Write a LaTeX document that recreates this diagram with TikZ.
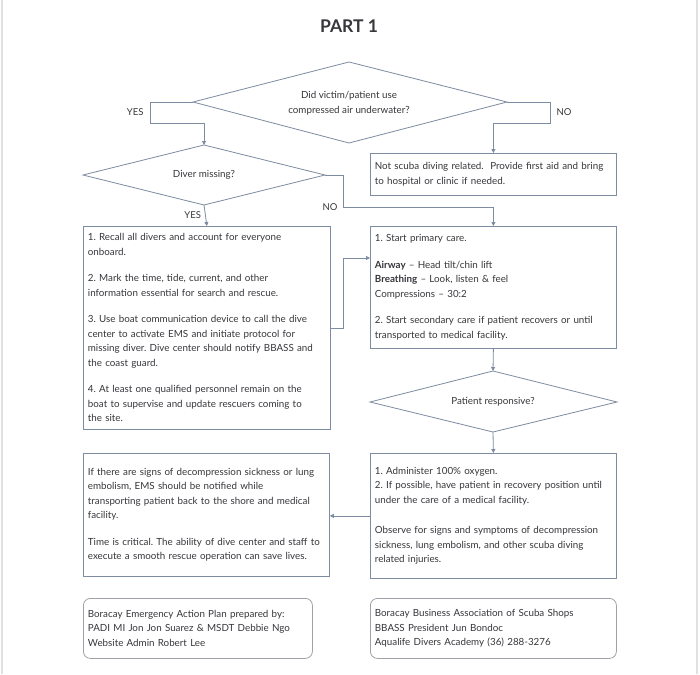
\documentclass[tikz,border=0pt]{standalone}
\usepackage{fontspec}
\setmainfont{Lato}
\usetikzlibrary{arrows.meta,calc}
\definecolor{linec}{RGB}{125,140,160}
\definecolor{txtc}{RGB}{55,55,60}
\definecolor{footc}{RGB}{160,160,168}
\definecolor{edgec}{RGB}{225,225,228}
\begin{document}
\frenchspacing
\begin{tikzpicture}[x=1pt,y=-1pt,
  every node/.style={text=txtc},
  body/.style={font=\fontsize{9.8}{14.5}\selectfont},
  box/.style={draw=linec, line width=0.8pt, fill=white, anchor=north west,
    inner xsep=4.5pt, inner ysep=3pt, align=left, body},
  foot/.style={box, draw=footc, rounded corners=7pt, font=\fontsize{9.8}{14.5}\selectfont},
  decline/.style={draw=linec, line width=0.8pt, fill=white},
  dectext/.style={align=center, inner sep=0pt, body},
  conn/.style={draw=linec, line width=0.8pt},
  arr/.style={conn, -{Triangle[width=4pt,length=4pt]}},
  lab/.style={font=\fontsize{9.5}{10}\selectfont}]
\useasboundingbox (0,0) rectangle (700,674);
\fill[white] (0,0) rectangle (700,674);
\draw[edgec, line width=1.2pt] (2,0) -- (2,674);
\draw[edgec, line width=1.2pt] (697,0) -- (697,674);

\node (title) at (349,26) {\fontsize{17.5}{20}\selectfont\bfseries PART 1};

% decisions
\coordinate (d1n) at (349,62);  \coordinate (d1s) at (349,143);
\coordinate (d1w) at (193,102); \coordinate (d1e) at (507,102);
\draw[decline] (d1n) -- (d1e) -- (d1s) -- (d1w) -- cycle;
\node[dectext] (d1) at (349,103) {Did victim/patient use\\compressed air underwater?};

\coordinate (d2n) at (204,145);  \coordinate (d2s) at (204,205);
\coordinate (d2w) at (83,175);   \coordinate (d2e) at (325,175);
\draw[decline] (d2n) -- (d2e) -- (d2s) -- (d2w) -- cycle;
\node[dectext] (d2) at (204,175) {Diver missing?};

\coordinate (d3n) at (493,371);  \coordinate (d3s) at (493,432);
\coordinate (d3w) at (370,402);  \coordinate (d3e) at (617,402);
\draw[decline] (d3n) -- (d3e) -- (d3s) -- (d3w) -- cycle;
\node[dectext] (d3) at (493,402) {Patient responsive?};

% boxes
\node[box, text width=237, minimum height=42] (nsd) at (370,153)
  {Not scuba diving related.\ \ Provide first aid and bring\\to hospital or clinic if needed.};
\node[box, text width=238, minimum height=203] (b1) at (83,226)
  {1. Recall all divers and account for everyone\\onboard.\\[12pt]
   2. Mark the time, tide, current, and other\\information essential for search and rescue.\\[12pt]
   3. Use boat communication device to call the dive\\center to activate EMS and initiate protocol for\\missing diver. Dive center should notify BBASS and\\the coast guard.\\[12pt]
   4. At least one qualified personnel remain on the\\boat to supervise and update rescuers coming to\\the site.};
\node[box, text width=237, minimum height=122] (b2) at (370,226)
  {1. Start primary care.\\[12pt]
   \textbf{Airway} – Head tilt/chin lift\\
   \textbf{Breathing} – Look, listen \& feel\\
   Compressions – 30:2\\[12pt]
   2. Start secondary care if patient recovers or until\\transported to medical facility.};
\node[box, text width=237, minimum height=123] (b3) at (83,453)
  {If there are signs of decompression sickness or lung\\embolism, EMS should be notified while\\transporting patient back to the shore and medical\\facility.\\[12pt]
   Time is critical. The ability of dive center and staff to\\execute a smooth rescue operation can save lives.};
\node[box, text width=237, minimum height=125] (b4) at (370,453)
  {1. Administer 100\% oxygen.\\
   2. If possible, have patient in recovery position until\\under the care of a medical facility.\\[16pt]
   Observe for signs and symptoms of decompression\\sickness, lung embolism, and other scuba diving\\related injuries.};

% footers
\node[foot, text width=220, minimum height=60] (f1) at (83,598)
  {Boracay Emergency Action Plan prepared by:\\PADI MI Jon Jon Suarez \& MSDT Debbie Ngo\\Website Admin Robert Lee};
\node[foot, text width=237, minimum height=60] (f2) at (370,598)
  {Boracay Business Association of Scuba Shops\\BBASS President Jun Bondoc\\Aqualife Divers Academy (36) 288-3276};

% connectors
\draw[arr] (d1w) -- ++(-43,0) coordinate (c1) -- ++(0,21) coordinate (c2) -| (d2n);
\node[lab, anchor=east] (yes1) at ($(c1)!0.5!(c2)+(-3,0)$) {YES};

\draw[arr] (d1e) -- ++(43,0) coordinate (c3) -- ++(0,21) coordinate (c4) -| (nsd.north);
\node[lab, anchor=west] (no1) at ($(c3)!0.5!(c4)+(3,0)$) {NO};

\draw[arr] (d2e) -- ++(18,0) coordinate (c5) -- ++(0,32) coordinate (c6) -| (b2.north);
\node[lab, anchor=east] (no2) at ($(c6)+(-2,0)$) {NO};

\draw[arr] (d2s) -- (b1.north);
\node[lab, anchor=east] (yes2) at ($(d2s)!0.5!(b1.north)+(-1,0)$) {YES};

\draw[arr] (b1.east) -- ++(13,0) |- ([yshift=-32pt]b2.north west);

\draw[arr] (b2.south) -- (d3n);
\draw[arr] (d3s) -- (b4.north);
\draw[arr] (b4.west) -- (b3.east |- b4.west);
\end{tikzpicture}
\end{document}
